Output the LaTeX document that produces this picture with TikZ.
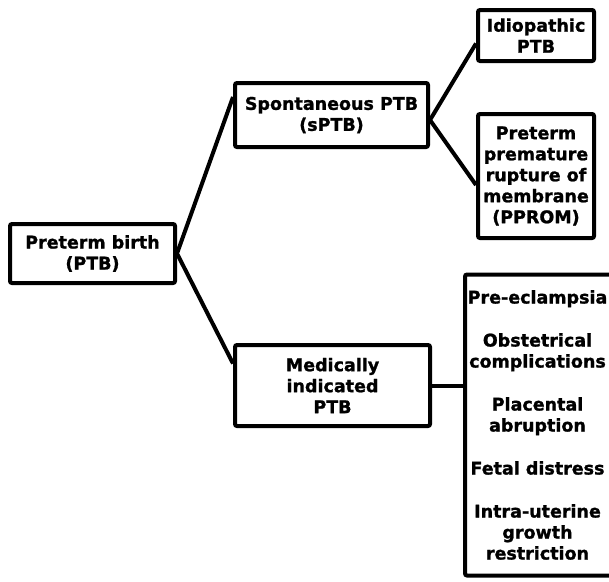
\documentclass[tikz,border=0pt]{standalone}
\usepackage{fontspec}
\setsansfont{DejaVu Sans}[BoldFeatures={FakeBold=1.2}]
\usetikzlibrary{positioning}
\tikzstyle{category} = [draw, rectangle, line width=4pt, rounded corners=2pt, align=center, inner sep=2pt, font=\sffamily\bfseries\fontsize{17.5}{21}\selectfont]
\tikzstyle{subtype} = [category, minimum width=116pt]
\tikzstyle{line} = [draw, line width=4pt]

\begin{document}
\begin{tikzpicture}[x=1pt, y=-1pt, node distance = 2cm]
    \clip (0,0) rectangle (609,581);
    \fill[white] (0,0) rectangle (609,581);
    % Place boxes
    \node [category, minimum width=165pt, minimum height=59pt, anchor=north west] (ptb) at (8,222) {Preterm birth\\(PTB)};
    \node [category, minimum width=193pt, minimum height=64pt, above right=73pt and 56pt of ptb] (sptb) {Spontaneous PTB\\(sPTB)};
    \node [category, minimum width=195pt, minimum height=81pt, below right=58pt and 56pt of ptb] (mptb) {Medically\\indicated\\PTB};
    \node [subtype, minimum height=51pt, above right=18pt and 46pt of sptb] (idio) {Idiopathic\\PTB};
    \node [subtype, minimum height=124pt, below=49pt of idio] (pprom) {Preterm\\premature\\rupture of\\membrane\\(PPROM)};
    \node [category, draw=none, outer sep=0pt, minimum width=145pt, minimum height=301pt, right=33pt of mptb, yshift=-39.5pt] (causes) {Pre-eclampsia\\[22pt]Obstetrical\\complications\\[22pt]Placental\\abruption\\[22pt]Fetal distress\\[22pt]Intra-uterine\\growth\\restriction};
    % Draw links
    \path [line, rounded corners=2pt] ([xshift=10pt]causes.north east) -- (causes.north west) -- (causes.south west) -- ([xshift=10pt]causes.south east);
    \path [line] ([yshift=18pt]sptb.west) -- (ptb.east) -- ([yshift=22pt]mptb.west);
    \path [line] ([yshift=-8pt]idio.west) -- ([yshift=-5pt]sptb.east) -- ([yshift=-9pt]pprom.west);
    \path [line] (mptb.east) -- (mptb.east -| causes.west);
\end{tikzpicture}
\end{document}
